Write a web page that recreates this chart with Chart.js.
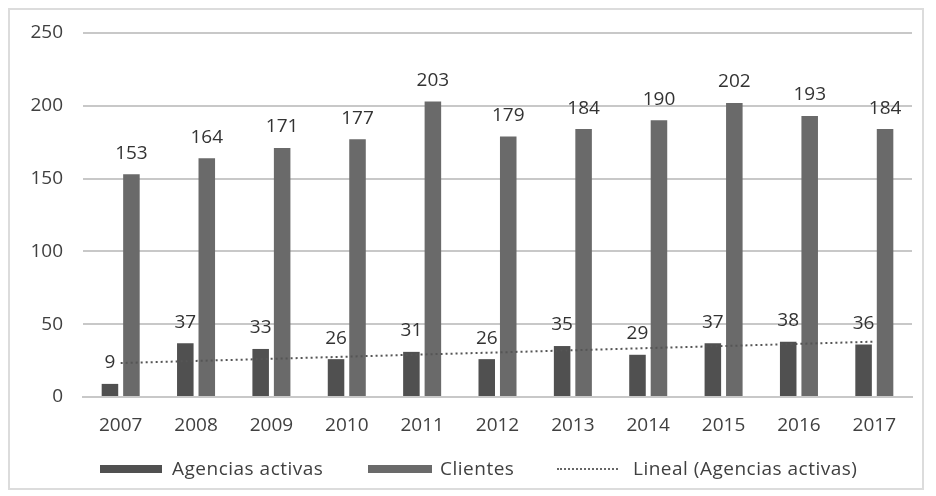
<!DOCTYPE html>
<html>
<head>
<meta charset="utf-8">
<script src="https://cdn.jsdelivr.net/npm/chart.js@4.4.1/dist/chart.umd.min.js"></script>
<style>
  html, body { margin: 0; padding: 0; background: #fff; }
  #wrap { position: relative; width: 936px; height: 496px; }
  #frame { position: absolute; left: 8px; top: 8px; width: 916px; height: 482px; border: 2px solid #dcdcdc; box-sizing: border-box; }
  #legend { position: absolute; left: 0; top: 456px; width: 936px; height: 24px; font-family: "Open Sans", sans-serif; font-size: 19px; letter-spacing: 0.5px; color: #404040; }
  .item { position: absolute; top: 0; line-height: 24px; white-space: nowrap; }
  .sw { position: absolute; top: 9px; height: 8px; }
</style>
</head>
<body>
<div id="wrap">
  <div id="frame"></div>
  <canvas id="chart" width="936" height="496"></canvas>
  <div id="legend">
    <div class="sw" style="left:100px;width:62px;background:#505050"></div>
    <div class="item" style="left:172px">Agencias activas</div>
    <div class="sw" style="left:368px;width:64px;background:#6a6a6a"></div>
    <div class="item" style="left:440px">Clientes</div>
    <div class="sw" style="left:557px;width:61px;height:0;top:12px;border-top:2px dotted #666"></div>
    <div class="item" style="left:633px">Lineal (Agencias activas)</div>
  </div>
</div>
<script>
const years = ["2007", "2008", "2009", "2010", "2011", "2012", "2013", "2014", "2015", "2016", "2017"];
const agencias = [9, 37, 33, 26, 31, 26, 35, 29, 37, 38, 36];
const clientes = [153, 164, 171, 177, 203, 179, 184, 190, 202, 193, 184];
const lineal = [23.3, 24.8, 26.2, 27.7, 29.2, 30.6, 32.1, 33.6, 35.0, 36.5, 38.0];
const yTicks = [0, 50, 100, 150, 200, 250];

// etiquetas de valor encima de cada barra
const barLabels = {
  id: "barLabels",
  afterDatasetsDraw(chart) {
    const ctx = chart.ctx;
    ctx.save();
    ctx.font = "19px 'Open Sans', sans-serif";
    ctx.fillStyle = "#333";
    ctx.textAlign = "center";
    ctx.textBaseline = "middle";
    chart.data.datasets.forEach((ds, i) => {
      if (ds.type === "line") return;
      chart.getDatasetMeta(i).data.forEach((bar, j) => {
        ctx.fillText(ds.data[j], bar.x, bar.y - 21);
      });
    });
    ctx.restore();
  }
};

const ctx = document.getElementById("chart").getContext("2d");
new Chart(ctx, {
  type: "bar",
  data: {
    labels: years,
    datasets: [
      {
        type: "line",
        label: "Lineal (Agencias activas)",
        data: lineal,
        borderColor: "#555",
        borderWidth: 2,
        borderDash: [2, 3],
        pointRadius: 0,
        fill: false,
        order: 0
      },
      {
        label: "Agencias activas",
        data: agencias,
        backgroundColor: "#505050",
        order: 1
      },
      {
        label: "Clientes",
        data: clientes,
        backgroundColor: "#6a6a6a",
        order: 1
      }
    ]
  },
  options: {
    responsive: false,
    animation: false,
    categoryPercentage: 0.57,
    barPercentage: 0.77,
    layout: { padding: { top: 33, right: 24, bottom: 54, left: 0 } },
    plugins: {
      legend: { display: false },
      tooltip: { enabled: false }
    },
    scales: {
      x: {
        grid: { display: false },
        border: { color: "#c8c8c8", width: 2 },
        ticks: { color: "#404040", font: { family: "Open Sans", size: 19 }, padding: 9 },
        afterFit(scale) { scale.height = 45; }
      },
      y: {
        min: 0,
        max: 250,
        afterBuildTicks(scale) { scale.ticks = yTicks.map(v => ({ value: v })); },
        grid: { color: "#c8c8c8", lineWidth: 2, drawTicks: false },
        border: { display: false },
        ticks: { color: "#404040", font: { family: "Open Sans", size: 19 }, padding: 20 },
        afterFit(scale) { scale.width = 83; }
      }
    }
  },
  plugins: [barLabels]
});
</script>
</body>
</html>
